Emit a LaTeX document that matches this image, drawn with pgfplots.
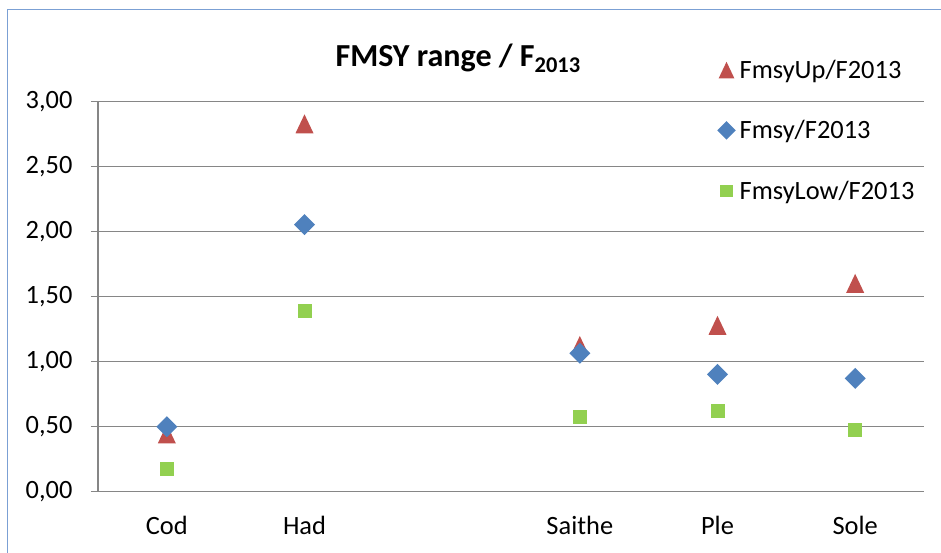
\documentclass[border=0pt]{standalone}
\usepackage{pgfplots}
\pgfplotsset{compat=1.18}
\usepackage{fontspec}
\setmainfont{Carlito}
\definecolor{gridgray}{HTML}{868686}
\definecolor{upred}{HTML}{C0504D}
\definecolor{fblue}{HTML}{4F81BD}
\definecolor{lowgreen}{HTML}{92D050}
\definecolor{frameblue}{HTML}{7BA0D4}
\pgfdeclareplotmark{xtri}{%
  \pgfpathmoveto{\pgfqpoint{0bp}{9.5bp}}%
  \pgfpathlineto{\pgfqpoint{9bp}{-9.5bp}}%
  \pgfpathlineto{\pgfqpoint{-9bp}{-9.5bp}}%
  \pgfpathclose\pgfusepathqfill}
\pgfdeclareplotmark{xdia}{%
  \pgfpathmoveto{\pgfqpoint{0bp}{10.5bp}}%
  \pgfpathlineto{\pgfqpoint{10.5bp}{0bp}}%
  \pgfpathlineto{\pgfqpoint{0bp}{-10.5bp}}%
  \pgfpathlineto{\pgfqpoint{-10.5bp}{0bp}}%
  \pgfpathclose\pgfusepathqfill}
\pgfdeclareplotmark{xsq}{%
  \pgfpathrectangle{\pgfqpoint{-7bp}{-7bp}}{\pgfqpoint{14bp}{14bp}}%
  \pgfusepathqfill}
\begin{document}
\begin{tikzpicture}
\useasboundingbox (0,0) rectangle (941bp,553bp);
\draw[frameblue, line width=1.5bp] (7.5bp,-2bp) -- (7.5bp,543.5bp) -- (945bp,543.5bp);
\begin{axis}[
  at={(98bp,61.3bp)}, anchor=south west,
  scale only axis, width=826bp, height=390bp,
  xmin=-0.5, xmax=5.5, ymin=0, ymax=3,
  axis x line*=bottom, axis y line*=left,
  axis line style={gridgray, line width=1.3bp, -},
  ymajorgrids, grid style={gridgray, line width=1.3bp},
  ytick={0,0.5,...,3},
  xtick={0,...,5},
  xticklabels={Cod,Had,,Saithe,Ple,Sole},
  tick align=outside,
  major tick length=7bp,
  x tick style={draw=none},
  y tick style={gridgray, line width=1.3bp},
  extra x ticks={-0.5,0.5,1.5,2.5,3.5,4.5,5.5},
  extra x tick labels={},
  extra x tick style={grid=none, major tick length=8bp, tick style={draw=gridgray, line width=1.3bp}},
  ticklabel style={font=\fontsize{26.5}{30}\selectfont, text=black},
  /pgf/number format/assume math mode=true,
  /pgf/number format/fixed,
  /pgf/number format/fixed zerofill,
  /pgf/number format/precision=2,
  /pgf/number format/use comma,
  yticklabel style={xshift=-15bp},
  xticklabel style={yshift=-14bp},
  title={\textbf{FMSY range / F\textsubscript{2013}}},
  title style={font=\fontsize{32.2}{37}\selectfont, at={(0.436,1.075)}, anchor=base},
  legend style={at={(0.7495,1.112)}, anchor=north west, draw=none, fill=none,
    font=\fontsize{26.5}{30}\selectfont, row sep=36.5bp, inner sep=0pt},
  legend cell align=left,
  legend image code/.code={\path[#1, mark options={scale=0.88}] plot[only marks] coordinates {(6bp,0bp)}; \path (17bp,0bp);},
  clip=false,
]
\addplot[only marks, mark=xtri, color=upred] coordinates {
  (0,0.445) (1,2.83) (3,1.125) (4,1.28) (5,1.603)};
\addlegendentry{FmsyUp/F2013}
\addplot[only marks, mark=xdia, color=fblue] coordinates {
  (0,0.50) (1,2.055) (3,1.065) (4,0.903) (5,0.872)};
\addlegendentry{Fmsy/F2013}
\addplot[only marks, mark=xsq, color=lowgreen] coordinates {
  (0,0.175) (1,1.39) (3,0.575) (4,0.62) (5,0.475)};
\addlegendentry{FmsyLow/F2013}
\end{axis}
\end{tikzpicture}
\end{document}
